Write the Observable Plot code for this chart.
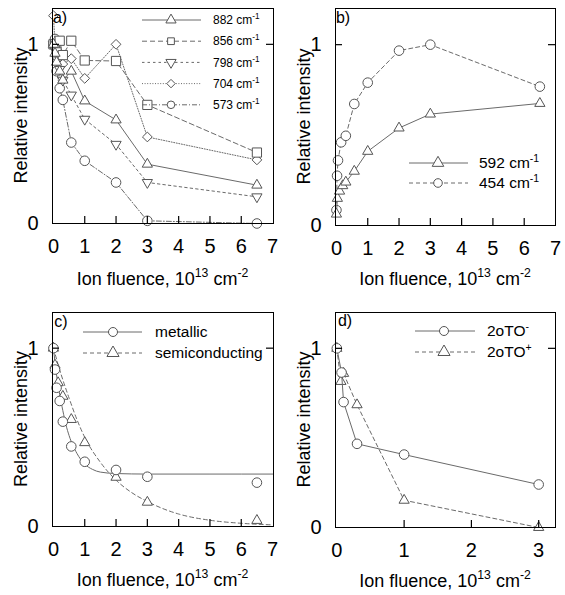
<!DOCTYPE html>
<html><head><meta charset="utf-8">
<script src="https://cdn.jsdelivr.net/npm/d3@7"></script>
<script src="https://cdn.jsdelivr.net/npm/@observablehq/plot@0.6"></script>
<style>
body{margin:0;background:#fff;}
#wrap{position:relative;width:565px;height:595px;background:#fff;overflow:hidden;}
#wrap svg{position:absolute;}
</style></head><body><div id="wrap"></div>
<script>
// ---------- DATA ----------
// Panel a
const xA = [0, 0.05, 0.1, 0.2, 0.3, 0.57, 1, 2, 3, 6.5];
const yA882 = [1, 0.95, 0.90, 0.85, 0.80, 0.85, 0.684, 0.578, 0.331, 0.214];
const yA856 = [1, 1.0, 0.955, 1.02, 0.94, 1.02, 0.91, 0.907, 0.662, 0.396];
const yA798 = [1, 0.97, 0.92, 0.86, 0.80, 0.717, 0.582, 0.442, 0.229, 0.149];
const yA704 = [1.16, 1.0, 0.97, 0.93, 0.89, 0.92, 0.81, 1.0, 0.483, 0.355];
const yA573 = [1, 1.03, 0.85, 0.755, 0.69, 0.452, 0.35, 0.229, 0.015, 0];
const labelsA = ["882", "856", "798", "704", "573"];
// Panel b
const xB592 = [0, 0.03, 0.1, 0.2, 0.3, 0.57, 1, 2, 3, 6.5];
const yB592 = [0.063, 0.15, 0.19, 0.22, 0.24, 0.30, 0.41, 0.539, 0.616, 0.675];
const xB454 = [0, 0.02, 0.05, 0.15, 0.3, 0.57, 1, 2, 3, 6.5];
const yB454 = [0.085, 0.275, 0.36, 0.46, 0.496, 0.672, 0.79, 0.967, 1.0, 0.768];
const labelsB = ["592", "454"];
// Panel c
const xCmet = [0, 0.05, 0.1, 0.2, 0.3, 0.57, 1, 2, 3, 6.5];
const yCmet = [1, 0.88, 0.778, 0.704, 0.588, 0.449, 0.363, 0.317, 0.279, 0.246];
const xCsem = [0, 0.05, 0.15, 0.3, 0.57, 1, 2, 3, 6.5];
const yCsem = [1, 0.905, 0.806, 0.73, 0.60, 0.47, 0.276, 0.136, 0.034];
const xCmetFit = [0, 0.1, 0.2, 0.3, 0.4, 0.5, 0.75, 1, 1.25, 1.5, 2, 3, 5, 7];
const yCmetFit = [1, 0.85, 0.74, 0.65, 0.57, 0.51, 0.41, 0.35, 0.32, 0.305, 0.297, 0.294, 0.294, 0.294];
const xCsemFit = [0, 0.25, 0.5, 0.75, 1, 1.5, 2, 2.5, 3, 3.5, 4, 5, 6, 7];
const yCsemFit = [1, 0.85, 0.72, 0.60, 0.50, 0.36, 0.26, 0.19, 0.14, 0.10, 0.07, 0.035, 0.018, 0.009];
const labelsC = ["metallic", "semiconducting"];
// Panel d
const xDminus = [0, 0.07, 0.1, 0.3, 1, 3];
const yDminus = [1, 0.865, 0.70, 0.467, 0.407, 0.24];
const xDplus = [0, 0.06, 0.1, 0.3, 1, 3];
const yDplus = [1, 0.815, 0.86, 0.685, 0.152, 0];
// Ticks
const xTicks7 = [0, 1, 2, 3, 4, 5, 6, 7];
const xTicks3 = [0, 1, 2, 3];
const yTicks = [0, 1];

// ---------- STYLE ----------
const FONT = '"Liberation Sans", Arial, Helvetica, sans-serif';
const LINE = "#6a6a6a";
const MARK = "#555";
const TICK_COLOR = "#000";
const TICK = 7;
const Y_DOMAIN = [0, 1.2];
const triDown = {draw(ctx, size) {
  const y = Math.sqrt(size / (Math.sqrt(3) * 3));
  ctx.moveTo(0, y * 2); ctx.lineTo(-Math.sqrt(3) * y, -y); ctx.lineTo(Math.sqrt(3) * y, -y); ctx.closePath();
}};
const SYM = {
  triangle: {plot: "triangle", d3: d3.symbolTriangle, r: 3.8},
  square: {plot: "square", d3: d3.symbolSquare, r: 5.2},
  tridown: {plot: triDown, d3: triDown, r: 3.8},
  diamond: {plot: "diamond2", d3: d3.symbolDiamond2, r: 4.4},
  circle: {plot: "circle", d3: d3.symbolCircle, r: 4.8}
};
const DASH = {solid: null, long: "5,3", short: "2.5,3", dot: "1,1.6", dashdot: "5,2,1,2", dash: "4,3"};

const rows = (xs, ys) => xs.map((x, i) => ({x, y: ys[i]}));

function seriesMarks(xs, ys, sym, dash, withLine = true) {
  const data = rows(xs, ys);
  const s = SYM[sym];
  const out = [];
  if (withLine) out.push(Plot.line(data, {x: "x", y: "y", stroke: LINE, strokeWidth: 1, strokeDasharray: DASH[dash]}));
  out.push(Plot.dot(data, {x: "x", y: "y", symbol: s.plot, r: s.r, stroke: MARK, fill: "white", strokeWidth: 1}));
  return out;
}

function supText(sel, x, y, parts, size, anchor = "start") {
  const t = sel.append("text").attr("x", x).attr("y", y)
    .attr("font-family", FONT).attr("font-size", size).attr("fill", "#000")
    .attr("text-anchor", anchor);
  let up = false;
  const shift = size * 0.42;
  for (const [s, sup] of parts) {
    const ts = t.append("tspan").text(s);
    if (sup && !up) { ts.attr("dy", -shift).attr("font-size", size * 0.68); up = true; }
    else if (sup) { ts.attr("font-size", size * 0.68); }
    else if (!sup && up) { ts.attr("dy", shift); up = false; }
  }
  return t;
}

const wrap = d3.select("#wrap");

function panel(cfg) {
  const {left, top, width, height, mt, mb, ml, mr, xDomain, xTicks, marks, tag, legend} = cfg;
  const fw = width - ml - mr, fh = height - mt - mb;
  const inner = xTicks.filter(t => t > xDomain[0] + 0.05 && t < xDomain[1] - 0.05);
  const tyLen = TICK / fh * (Y_DOMAIN[1] - Y_DOMAIN[0]);
  const txLen = TICK / fw * (xDomain[1] - xDomain[0]);
  const svg = Plot.plot({
    width, height, marginTop: mt, marginBottom: mb, marginLeft: ml, marginRight: mr,
    style: {fontFamily: FONT, fontSize: "20px", color: "#000", background: "transparent", overflow: "visible"},
    x: {domain: xDomain},
    y: {domain: Y_DOMAIN},
    marks: [
      ...marks,
      Plot.ruleX(inner, {x: d => d, y1: Y_DOMAIN[0], y2: Y_DOMAIN[0] + tyLen, stroke: TICK_COLOR, strokeWidth: 1.2}),
      Plot.ruleY([1], {y: d => d, x1: xDomain[0], x2: xDomain[0] + txLen, stroke: TICK_COLOR, strokeWidth: 1.2}),
      Plot.ruleY([1], {y: d => d, x1: xDomain[1] - txLen, x2: xDomain[1], stroke: TICK_COLOR, strokeWidth: 1.2}),
      Plot.axisX(xTicks, {anchor: "bottom", tickSize: 0, tickPadding: 15, label: null, fontSize: 20, tickFormat: d => String(d)}),
      Plot.axisY(yTicks, {anchor: "left", tickSize: 0, tickPadding: 14, label: null, fontSize: 20, tickFormat: d => String(d)}),
      Plot.frame({stroke: "#000", strokeWidth: 1})
    ]
  });
  svg.style.left = left + "px";
  svg.style.top = top + "px";
  wrap.node().appendChild(svg);
  const s = d3.select(svg);
  const fx0 = ml, fx1 = width - mr, fy0 = mt, fy1 = height - mb;
  supText(s, (fx0 + fx1) / 2, cfg.xLabelY - top, [["Ion fluence, 10", false], ["13", true], [" cm", false], ["-2", true]], 18, "middle");
  s.append("text").attr("transform", `translate(26.5,${(fy0 + fy1) / 2}) rotate(-90)`)
    .attr("text-anchor", "middle").attr("font-family", FONT).attr("font-size", 18).attr("fill", "#000")
    .text("Relative intensity");
  s.append("text").attr("x", tag.x - left).attr("y", tag.y - top).attr("font-family", FONT)
    .attr("font-size", 16).attr("fill", "#000").text(tag.text);
  const g = s.append("g");
  legend.items.forEach((it, i) => {
    const y = legend.y0 + i * legend.dy - top;
    g.append("line").attr("x1", legend.lx1 - left).attr("x2", legend.lx2 - left).attr("y1", y).attr("y2", y)
      .attr("stroke", LINE).attr("stroke-width", 1).attr("stroke-dasharray", DASH[it.dash]);
    const sy = SYM[it.sym];
    const rr = legend.r;
    g.append("path").attr("transform", `translate(${legend.mx - left},${y})`)
      .attr("d", d3.symbol(sy.d3, Math.PI * rr * rr)())
      .attr("fill", "white").attr("stroke", MARK).attr("stroke-width", 1);
    supText(g, legend.tx - left, y + legend.font * 0.35, it.parts, legend.font, "start");
  });
}

panel({
  left: 0, top: 0, width: 285, height: 300, mt: 8, mb: 77, ml: 52, mr: 12,
  xDomain: [-0.03, 7.03], xTicks: xTicks7, xLabelY: 285,
  tag: {x: 60, y: 23, text: "a)"},
  marks: [
    ...seriesMarks(xA, yA573, "circle", "dashdot"),
    ...seriesMarks(xA, yA704, "diamond", "dot"),
    ...seriesMarks(xA, yA798, "tridown", "short"),
    ...seriesMarks(xA, yA856, "square", "long"),
    ...seriesMarks(xA, yA882, "triangle", "solid")
  ],
  legend: {y0: 20, dy: 21.2, lx1: 142, lx2: 201, mx: 171, tx: 213, font: 12, r: 3.8,
    items: [
      {sym: "triangle", dash: "solid", parts: [[labelsA[0] + " cm", false], ["-1", true]]},
      {sym: "square", dash: "long", parts: [[labelsA[1] + " cm", false], ["-1", true]]},
      {sym: "tridown", dash: "short", parts: [[labelsA[2] + " cm", false], ["-1", true]]},
      {sym: "diamond", dash: "dot", parts: [[labelsA[3] + " cm", false], ["-1", true]]},
      {sym: "circle", dash: "dashdot", parts: [[labelsA[4] + " cm", false], ["-1", true]]}
    ]}
});

panel({
  left: 283, top: 0, width: 282, height: 300, mt: 8, mb: 75, ml: 52, mr: 10,
  xDomain: [-0.03, 7.0], xTicks: xTicks7, xLabelY: 285,
  tag: {x: 343, y: 23, text: "b)"},
  marks: [
    ...seriesMarks(xB454, yB454, "circle", "dash"),
    ...seriesMarks(xB592, yB592, "triangle", "solid")
  ],
  legend: {y0: 163, dy: 20, lx1: 409, lx2: 468, mx: 438, tx: 479, font: 15.5, r: 4.3,
    items: [
      {sym: "triangle", dash: "solid", parts: [[labelsB[0] + " cm", false], ["-1", true]]},
      {sym: "circle", dash: "dash", parts: [[labelsB[1] + " cm", false], ["-1", true]]}
    ]}
});

panel({
  left: 0, top: 300, width: 285, height: 295, mt: 12, mb: 69, ml: 52, mr: 12,
  xDomain: [-0.03, 7.03], xTicks: xTicks7, xLabelY: 586,
  tag: {x: 61, y: 327, text: "c)"},
  marks: [
    Plot.line(rows(xCmetFit, yCmetFit), {x: "x", y: "y", stroke: LINE, strokeWidth: 1, curve: "monotone-x"}),
    Plot.line(rows(xCsemFit, yCsemFit), {x: "x", y: "y", stroke: LINE, strokeWidth: 1, strokeDasharray: DASH.dash, curve: "monotone-x"}),
    ...seriesMarks(xCsem, yCsem, "triangle", "dash", false),
    ...seriesMarks(xCmet, yCmet, "circle", "solid", false)
  ],
  legend: {y0: 332, dy: 21, lx1: 83, lx2: 142, mx: 113, tx: 155, font: 15.5, r: 4.5,
    items: [
      {sym: "circle", dash: "solid", parts: [[labelsC[0], false]]},
      {sym: "triangle", dash: "dash", parts: [[labelsC[1], false]]}
    ]}
});

panel({
  left: 283, top: 300, width: 282, height: 295, mt: 12, mb: 68, ml: 52, mr: 10,
  xDomain: [-0.02, 3.25], xTicks: xTicks3, xLabelY: 587,
  tag: {x: 345, y: 326, text: "d)"},
  marks: [
    ...seriesMarks(xDplus, yDplus, "triangle", "dash"),
    ...seriesMarks(xDminus, yDminus, "circle", "solid")
  ],
  legend: {y0: 331, dy: 21, lx1: 415, lx2: 475, mx: 444, tx: 487, font: 15.5, r: 4.5,
    items: [
      {sym: "circle", dash: "solid", parts: [["2oTO", false], ["-", true]]},
      {sym: "triangle", dash: "dash", parts: [["2oTO", false], ["+", true]]}
    ]}
});
</script></body></html>
